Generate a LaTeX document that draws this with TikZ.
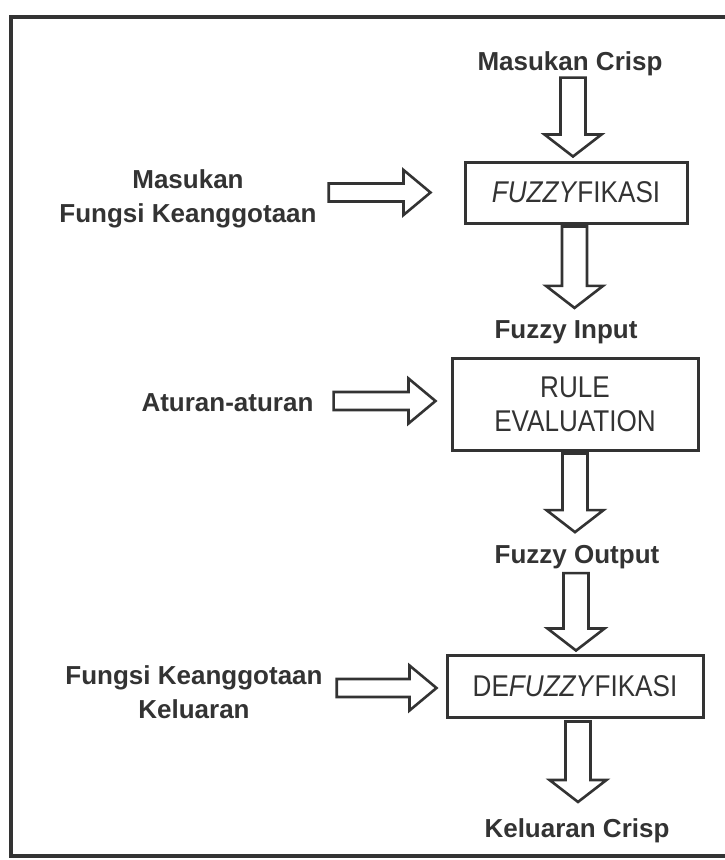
\documentclass[tikz,border=0pt]{standalone}
\usepackage{fontspec}
\setmainfont{Liberation Sans}
\newfontfamily\boxfont{Liberation Sans}[FakeStretch=0.87]
\usetikzlibrary{calc}
\definecolor{ink}{HTML}{333333}
\begin{document}
\begin{tikzpicture}[x=1pt,y=-1pt,
  lbl/.style={inner sep=0pt, text=ink, font=\bfseries\fontsize{26}{34}\selectfont},
  boxtxt/.style={draw=ink, line width=3pt, inner sep=0pt, text=ink, align=center,
                 font=\boxfont\fontsize{30}{34}\selectfont},
  downarrow/.style={draw=ink, line width=2.6pt, line join=miter,
    to path={let \p1=(\tikztostart), \p2=(\tikztotarget) in
      (\x1-12.5pt,\y1) -- (\x1+12.5pt,\y1) -- (\x1+12.5pt,\y2+22pt) -- (\x1+28.5pt,\y2+22pt)
      -- (\x1,\y2) -- (\x1-28.5pt,\y2+22pt) -- (\x1-12.5pt,\y2+22pt) -- cycle}},
  rightarrow/.style={draw=ink, line width=2.6pt, line join=miter,
    to path={let \p1=(\tikztostart), \p2=(\tikztotarget) in
      (\x1,\y2+9pt) -- (\x2-27pt,\y2+9pt) -- (\x2-27pt,\y2+22.5pt) -- (\x2,\y2)
      -- (\x2-27pt,\y2-22.5pt) -- (\x2-27pt,\y2-9pt) -- (\x1,\y2-9pt) -- cycle}},
  frameline/.style={draw=ink, line width=3.5pt}
]
\useasboundingbox (0,0) rectangle (724,860);
\fill[white] (0,0) rectangle (724,860);
\draw[frameline] (726,17) -- (11,17) -- (11,856) -- (726,856);

% main column
\node[lbl, anchor=base] (mc) at (570,70) {Masukan Crisp};
\node[boxtxt, minimum width=222pt, minimum height=61pt] (fz) at (576,192.5) {\textit{FUZZY}FIKASI};
\node[lbl, anchor=base] (fi) at (566,338) {Fuzzy Input};
\node[boxtxt, minimum width=246pt, minimum height=92pt] (re) at (575,404) {RULE\\EVALUATION};
\node[lbl, anchor=base] (fo) at (577,563) {Fuzzy Output};
\node[boxtxt, minimum width=256pt, minimum height=62pt] (df) at (575,686) {DE\textit{FUZZY}FIKASI};
\node[lbl, anchor=base] (kc) at (577,837) {Keluaran Crisp};

% left inputs
\node[lbl, align=center] (mf) at (188,199) {Masukan\\Fungsi Keanggotaan};
\node[lbl, anchor=base] (at) at (227.5,411) {Aturan-aturan};
\node[lbl, align=center] (fk) at (194,692) {Fungsi Keanggotaan\\Keluaran};

% vertical block arrows
\draw[downarrow] ([xshift=3pt,yshift=-2pt]mc.south) to ([yshift=4pt]fz.north);
\draw[downarrow] ([xshift=-1.5pt,yshift=-2pt]fz.south) to ([yshift=12pt]fi.north);
\draw[downarrow] ([yshift=-2pt]re.south) to ([yshift=12.5pt]fo.north);
\draw[downarrow] ([xshift=-1pt,yshift=-4.5pt]fo.south) to ([yshift=3pt]df.north);
\draw[downarrow] ([xshift=3pt,yshift=-3pt]df.south) to ([yshift=16pt]kc.north);

% horizontal block arrows
\draw[rightarrow] ([xshift=12pt]mf.east) to ([xshift=-33pt]fz.west);
\draw[rightarrow] ([xshift=20pt]at.east) to ([xshift=-15pt,yshift=3pt]re.west);
\draw[rightarrow] ([xshift=14pt]fk.east) to ([xshift=-9pt,yshift=-2pt]df.west);
\end{tikzpicture}
\end{document}
